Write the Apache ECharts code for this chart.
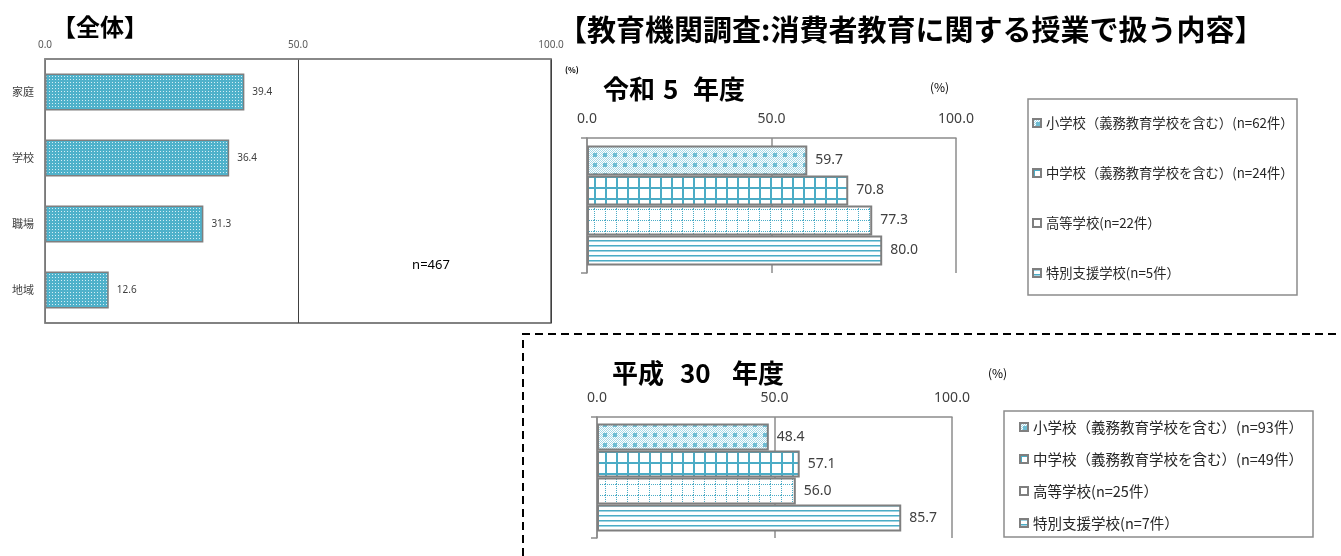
<!DOCTYPE html>
<html>
<head>
<meta charset="utf-8">
<script src="https://cdn.jsdelivr.net/npm/echarts@6/dist/echarts.min.js"></script>
<style>
  html, body { margin: 0; padding: 0; background: #fff; }
  #main { width: 1341px; height: 556px; }
</style>
</head>
<body>
<div id="main"></div>
<script>
// 全体
var catAll = ['家庭', '学校', '職場', '地域'];
var valAll = [39.4, 36.4, 31.3, 12.6];
// 令和5年度
var namesR5 = ['小学校（義務教育学校を含む）(n=62件）', '中学校（義務教育学校を含む）(n=24件）', '高等学校(n=22件）', '特別支援学校(n=5件）'];
var valR5 = [59.7, 70.8, 77.3, 80.0];
// 平成30年度
var namesH30 = ['小学校（義務教育学校を含む）(n=93件）', '中学校（義務教育学校を含む）(n=49件）', '高等学校(n=25件）', '特別支援学校(n=7件）'];
var valH30 = [48.4, 57.1, 56.0, 85.7];
var axisTicks = { min: 0, max: 100, interval: 50 };

var TEAL = '#4bacc6';
var JP = '"Noto Sans CJK JP", "Noto Sans", sans-serif';

// パターン塗り
function makePattern(w, h, draw) {
	var c = document.createElement('canvas');
	c.width = w;
	c.height = h;
	var ctx = c.getContext('2d');
	ctx.fillStyle = '#fff';
	ctx.fillRect(0, 0, w, h);
	draw(ctx);
	return { image: c, repeat: 'repeat' };
}
var patDots = makePattern(3, 3, function (ctx) {
	ctx.fillStyle = '#4fb1ca';
	ctx.fillRect(0, 0, 3, 3);
	ctx.fillStyle = '#d4eef5';
	ctx.fillRect(1, 1, 1, 1);
});
var patTrellis = makePattern(10, 10, function (ctx) {
	for (var y = 0; y < 10; y++) {
		for (var x = 0; x < 10; x++) {
			if ((x + y) % 2 === 0) {
				ctx.fillStyle = '#a8d8e6';
				ctx.fillRect(x, y, 1, 1);
			}
		}
	}
	ctx.fillStyle = '#6fbdd3';
	ctx.fillRect(3, 3, 4, 4);
});
var patGrid = makePattern(11, 11, function (ctx) {
	ctx.fillStyle = TEAL;
	ctx.fillRect(0, 0, 2, 11);
	ctx.fillRect(0, 0, 11, 2);
});
var patDotGrid = makePattern(11, 11, function (ctx) {
	ctx.fillStyle = TEAL;
	for (var i = 0; i < 11; i += 2) {
		ctx.fillRect(0, i, 1, 1);
		ctx.fillRect(i, 0, 1, 1);
	}
});
var patHLines = makePattern(2, 5, function (ctx) {
	ctx.fillStyle = TEAL;
	ctx.fillRect(0, 0, 2, 1);
	ctx.fillStyle = '#9fd3e2';
	ctx.fillRect(0, 1, 2, 1);
});
var schoolPats = [patTrellis, patGrid, patDotGrid, patHLines];

var myChart = echarts.init(document.getElementById('main'));

function fmt1(v) {
	return Number(v).toFixed(1);
}

function schoolSeries(names, vals, idx, barW) {
	return names.map(function (n, i) {
		return {
			name: n,
			type: 'bar',
			xAxisIndex: idx,
			yAxisIndex: idx,
			barWidth: barW,
			barGap: '0%',
			data: [vals[i]],
			itemStyle: {
				color: schoolPats[i],
				borderColor: '#7f7f7f',
				borderWidth: 2
			},
			label: {
				show: true,
				position: 'right',
				distance: 8,
				formatter: function (p) { return fmt1(p.value); },
				fontFamily: 'Noto Sans',
				fontSize: 14,
				color: '#404040'
			}
		};
	});
}

function rightX(idx) {
	return {
		type: 'value',
		gridIndex: idx,
		position: 'top',
		min: axisTicks.min,
		max: axisTicks.max,
		interval: axisTicks.interval,
		axisLine: { show: true, lineStyle: { color: '#8c8c8c', width: 1.5 } },
		axisTick: { show: false },
		axisLabel: { formatter: fmt1, fontFamily: 'Noto Sans', fontSize: 14, color: '#404040', margin: 12 },
		splitLine: { show: true, lineStyle: { color: '#8c8c8c', width: 1.5 } }
	};
}

function rightY(idx) {
	return {
		type: 'category',
		gridIndex: idx,
		inverse: true,
		data: [''],
		axisLine: { show: true, lineStyle: { color: '#8c8c8c', width: 1.5 } },
		axisTick: { show: true, length: 6, lineStyle: { color: '#8c8c8c', width: 1.5 } },
		axisLabel: { show: false }
	};
}

function txt(x, y, s, font, align) {
	return {
		type: 'text',
		x: x,
		y: y,
		style: {
			text: s,
			font: font,
			fill: '#000',
			align: align || 'left',
			verticalAlign: 'middle',
			textAlign: align || 'left',
			textVerticalAlign: 'middle'
		}
	};
}

var option = {
	animation: false,
	grid: [
		{ left: 45, top: 59, width: 506, height: 264, show: true, borderColor: '#595959', borderWidth: 1.5 },
		{ left: 587, top: 138, width: 369, height: 135 },
		{ left: 597, top: 417, width: 355, height: 121 }
	],
	xAxis: [
		{
			type: 'value',
			gridIndex: 0,
			position: 'top',
			min: axisTicks.min,
			max: axisTicks.max,
			interval: axisTicks.interval,
			axisLine: { show: true, lineStyle: { color: '#8c8c8c', width: 1.5 } },
			axisTick: { show: false },
			axisLabel: { formatter: fmt1, fontFamily: 'Noto Sans', fontSize: 10, color: '#595959', margin: 9 },
			splitLine: { show: true, lineStyle: { color: '#404040', width: 1 } }
		},
		rightX(1),
		rightX(2)
	],
	yAxis: [
		{
			type: 'category',
			gridIndex: 0,
			inverse: true,
			data: catAll,
			axisLine: { show: true, lineStyle: { color: '#8c8c8c', width: 1.5 } },
			axisTick: { show: false },
			axisLabel: { fontFamily: JP, fontSize: 11, color: '#404040', margin: 11 }
		},
		rightY(1),
		rightY(2)
	],
	legend: [
		{
			data: namesR5,
			orient: 'vertical',
			left: 1032,
			top: 115,
			padding: 0,
			itemWidth: 8,
			itemHeight: 8,
			itemGap: 34,
			icon: 'rect',
			selectedMode: false,
			textStyle: { fontFamily: JP, fontSize: 13.3, lineHeight: 16, color: '#262626' }
		},
		{
			data: namesH30,
			orient: 'vertical',
			left: 1019,
			top: 419,
			padding: 0,
			itemWidth: 8,
			itemHeight: 8,
			itemGap: 16,
			icon: 'rect',
			selectedMode: false,
			textStyle: { fontFamily: JP, fontSize: 14.5, lineHeight: 16, color: '#262626' }
		}
	],
	series: [
		{
			name: '全体',
			type: 'bar',
			xAxisIndex: 0,
			yAxisIndex: 0,
			barWidth: 37,
			data: valAll,
			itemStyle: { color: patDots, borderColor: '#7f7f7f', borderWidth: 1.5 },
			label: {
				show: true,
				position: 'right',
				distance: 8,
				formatter: function (p) { return fmt1(p.value); },
				fontFamily: 'Noto Sans',
				fontSize: 10,
				color: '#404040'
			}
		}
	].concat(schoolSeries(namesR5, valR5, 1, 30), schoolSeries(namesH30, valH30, 2, 27)),
	graphic: [
		txt(52, 27, '【全体】', 'bold 24px ' + JP),
		txt(558, 30, '【教育機関調査:消費者教育に関する授業で扱う内容】', 'bold 29px ' + JP),
		txt(603, 89, '令和', 'bold 26px ' + JP),
		txt(663, 89, '5', 'bold 26px ' + JP),
		txt(693, 89, '年度', 'bold 26px ' + JP),
		txt(612, 373, '平成', 'bold 26px ' + JP),
		txt(680, 373, '30', 'bold 26px ' + JP),
		txt(732, 373, '年度', 'bold 26px ' + JP),
		txt(565, 70, '(%)', 'bold 8px ' + JP),
		txt(930, 87, '(%)', '12px ' + JP),
		txt(988, 373, '(%)', '12px ' + JP),
		txt(431, 265, 'n=467', '13px "Noto Sans", sans-serif', 'center'),
		{
			type: 'rect',
			shape: { x: 1028, y: 99, width: 269, height: 196 },
			style: { fill: 'none', stroke: '#8c8c8c', lineWidth: 1.5 }
		},
		{
			type: 'rect',
			shape: { x: 1004, y: 411, width: 309, height: 126 },
			style: { fill: 'none', stroke: '#8c8c8c', lineWidth: 1.5 }
		},
		{
			type: 'polyline',
			shape: { points: [[523, 556], [523, 334], [1341, 334]] },
			style: { fill: 'none', stroke: '#000', lineWidth: 2, lineDash: [8, 5] }
		}
	]
};
myChart.setOption(option);
window.addEventListener('resize', function () {
	myChart.resize();
});
</script>
</body>
</html>
